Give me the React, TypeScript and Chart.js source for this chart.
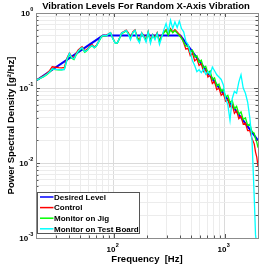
import { useEffect, useRef } from 'react';
import { Chart, registerables } from 'chart.js';
Chart.register(...registerables);

const FONT = '"Liberation Sans", Arial, sans-serif';

const titleText = 'Vibration Levels For Random X-Axis Vibration';
const xTitle = 'Frequency  [Hz]';
const yTitle = 'Power Spectral Density [g\u00B2/Hz]';

const seriesLabels = ['Desired Level', 'Control', 'Monitor on Jig', 'Monitor on Test Board'];
const seriesColors = ['#0000ff', '#ff0000', '#00ff00', '#00ffff'];

const desiredHz = [20, 80, 400, 2000];
const desiredPsd = [0.125, 0.5, 0.5, 0.02];

const freqHz = [
  20, 21, 22, 23.5, 25, 26.5, 28, 30, 32, 34, 36, 38, 40, 42, 44, 46, 48, 50, 52, 55,
  58, 61, 64, 67, 70, 74, 78, 82, 86, 90, 94, 98, 103, 108, 113, 118, 124, 130, 136, 142,
  149, 156, 163, 171, 179, 187, 196, 205, 215, 225, 236, 247, 259, 271, 284, 297, 311, 326, 341, 357,
  374, 391, 409, 428, 448, 469, 491, 514, 538, 563, 589, 617, 646, 676, 708, 741, 776, 812, 850, 890,
  932, 975, 1021, 1069, 1119, 1171, 1226, 1283, 1343, 1406, 1472, 1541, 1613, 1688, 1767, 1850, 1900, 1950, 2000,
];

const controlPsd = [
  0.128, 0.132, 0.138, 0.146, 0.156, 0.17, 0.192, 0.189, 0.187, 0.186, 0.188, 0.25, 0.293, 0.262, 0.252, 0.29, 0.322, 0.34, 0.355, 0.312,
  0.33, 0.362, 0.378, 0.352, 0.372, 0.43, 0.494, 0.505, 0.5, 0.53, 0.548, 0.47, 0.405, 0.4, 0.465, 0.545, 0.565, 0.59, 0.545, 0.47,
  0.56, 0.595, 0.48, 0.43, 0.545, 0.5, 0.44, 0.565, 0.43, 0.52, 0.47, 0.545, 0.42, 0.5, 0.56, 0.6, 0.52, 0.62, 0.56, 0.6,
  0.56, 0.52, 0.47, 0.4, 0.33, 0.34, 0.27, 0.29, 0.23, 0.245, 0.2, 0.21, 0.165, 0.175, 0.14, 0.15, 0.115, 0.122, 0.095, 0.1,
  0.08, 0.085, 0.067, 0.071, 0.056, 0.06, 0.046, 0.05, 0.039, 0.042, 0.033, 0.034, 0.027, 0.027, 0.021, 0.018, 0.014, 0.012, 0.009,
];

const jigPsd = [
  0.126, 0.13, 0.135, 0.142, 0.15, 0.162, 0.178, 0.176, 0.175, 0.174, 0.178, 0.235, 0.28, 0.25, 0.24, 0.275, 0.305, 0.325, 0.34, 0.3,
  0.318, 0.35, 0.365, 0.342, 0.362, 0.42, 0.485, 0.5, 0.495, 0.522, 0.54, 0.465, 0.398, 0.395, 0.455, 0.53, 0.55, 0.575, 0.53, 0.46,
  0.545, 0.58, 0.47, 0.42, 0.535, 0.49, 0.43, 0.55, 0.42, 0.505, 0.46, 0.53, 0.41, 0.49, 0.545, 0.585, 0.505, 0.6, 0.545, 0.58,
  0.54, 0.5, 0.46, 0.41, 0.36, 0.37, 0.3, 0.32, 0.26, 0.27, 0.22, 0.235, 0.185, 0.195, 0.157, 0.168, 0.13, 0.137, 0.107, 0.113,
  0.09, 0.096, 0.076, 0.08, 0.064, 0.068, 0.053, 0.057, 0.045, 0.048, 0.038, 0.04, 0.032, 0.033, 0.026, 0.025, 0.021, 0.019, 0.016,
];

const boardPsd = [
  0.127, 0.131, 0.136, 0.143, 0.152, 0.165, 0.18, 0.177, 0.176, 0.175, 0.176, 0.24, 0.29, 0.255, 0.245, 0.28, 0.31, 0.33, 0.345, 0.305,
  0.32, 0.352, 0.368, 0.345, 0.365, 0.425, 0.49, 0.502, 0.498, 0.525, 0.545, 0.462, 0.4, 0.398, 0.46, 0.54, 0.56, 0.585, 0.52, 0.44,
  0.55, 0.59, 0.45, 0.4, 0.54, 0.48, 0.41, 0.56, 0.395, 0.51, 0.44, 0.535, 0.38, 0.47, 0.6, 0.72, 0.56, 0.8, 0.62, 0.76,
  0.64, 0.78, 0.62, 0.56, 0.42, 0.38, 0.3, 0.23, 0.2, 0.165, 0.175, 0.16, 0.178, 0.152, 0.165, 0.15, 0.19, 0.17, 0.15, 0.14,
  0.13, 0.11, 0.072, 0.06, 0.037, 0.072, 0.09, 0.085, 0.12, 0.15, 0.1, 0.085, 0.065, 0.04, 0.02, 0.0035, 0.0011, 0.0008, 0.0007,
];

const xMajorTicks = [100, 1000];
const xTickExps = ['2', '3'];
const yMajorTicks = [0.001, 0.01, 0.1, 1];
const yTickExps = ['-3', '-2', '-1', '0'];

const X_MIN = 20;
const X_MAX = 2000;
const Y_MIN = 0.001;
const Y_MAX = 1;

function gridValues(min: number, max: number): number[] {
  const out: number[] = [];
  for (let e = -4; e <= 4; e++) {
    for (let m = 1; m <= 9; m++) {
      const v = parseFloat((m * Math.pow(10, e)).toPrecision(6));
      if (v >= min * 0.9999 && v <= max * 1.0001) out.push(v);
    }
  }
  return out;
}

const isMajor = (v: number) => Math.abs(Math.log10(v) - Math.round(Math.log10(v))) < 1e-6;

function drawPow(ctx: CanvasRenderingContext2D, exp: string, x: number, y: number, align: 'right' | 'center') {
  const baseFont = `bold 8px ${FONT}`;
  const expFont = `bold 5.5px ${FONT}`;
  ctx.font = baseFont;
  const bw = ctx.measureText('10').width;
  ctx.font = expFont;
  const ew = ctx.measureText(exp).width;
  const total = bw + ew;
  const left = align === 'right' ? x - total : x - total / 2;
  ctx.textAlign = 'left';
  ctx.textBaseline = 'middle';
  ctx.fillStyle = '#000';
  ctx.font = baseFont;
  ctx.fillText('10', left, y);
  ctx.font = expFont;
  ctx.fillText(exp, left + bw + 0.3, y - 4.2);
}

const framePlugin = {
  id: 'frame',
  afterDatasetsDraw(chart: any) {
    const { ctx, chartArea: a, scales } = chart;
    ctx.save();
    ctx.strokeStyle = '#555';
    ctx.lineWidth = 1;
    ctx.beginPath();
    for (const v of gridValues(X_MIN, X_MAX)) {
      const px = Math.round(scales.x.getPixelForValue(v)) + 0.5;
      const len = isMajor(v) ? 4 : 2.5;
      ctx.moveTo(px, a.bottom);
      ctx.lineTo(px, a.bottom - len);
      ctx.moveTo(px, a.top);
      ctx.lineTo(px, a.top + len);
    }
    for (const v of gridValues(Y_MIN, Y_MAX)) {
      const py = Math.round(scales.y.getPixelForValue(v)) + 0.5;
      const len = isMajor(v) ? 4 : 2.5;
      ctx.moveTo(a.left, py);
      ctx.lineTo(a.left + len, py);
      ctx.moveTo(a.right, py);
      ctx.lineTo(a.right - len, py);
    }
    ctx.stroke();
    ctx.strokeStyle = '#8c8c8c';
    ctx.strokeRect(Math.round(a.left) + 0.5, Math.round(a.top) + 0.5, Math.round(a.right - a.left), Math.round(a.bottom - a.top));
    ctx.restore();
  },
  afterDraw(chart: any) {
    const { ctx, chartArea: a, scales } = chart;
    ctx.save();
    // title
    ctx.font = `bold 9.5px ${FONT}`;
    ctx.fillStyle = '#000';
    ctx.textAlign = 'center';
    ctx.textBaseline = 'middle';
    ctx.fillText(titleText, (a.left + a.right) / 2 - 1, 6.5);
    yMajorTicks.forEach((v, i) => {
      drawPow(ctx, yTickExps[i], a.left - 3, scales.y.getPixelForValue(v) + 0.5, 'right');
    });
    xMajorTicks.forEach((v, i) => {
      drawPow(ctx, xTickExps[i], scales.x.getPixelForValue(v) - 1, a.bottom + 12, 'center');
    });
    // legend
    const bx = Math.round(a.left) + 1.5;
    const by = 192.5;
    const bw = 102;
    const bh = 41;
    ctx.fillStyle = '#fff';
    ctx.fillRect(bx, by, bw, bh);
    ctx.strokeStyle = '#555';
    ctx.lineWidth = 1;
    ctx.strokeRect(bx, by, bw, bh);
    ctx.font = `bold 8px ${FONT}`;
    ctx.textAlign = 'left';
    ctx.textBaseline = 'middle';
    chart.data.datasets.forEach((ds: any, i: number) => {
      const y = by + 4.5 + i * 10.6;
      ctx.strokeStyle = ds.borderColor;
      ctx.lineWidth = 1.5;
      ctx.beginPath();
      ctx.moveTo(bx + 2.5, y);
      ctx.lineTo(bx + 16, y);
      ctx.stroke();
      ctx.fillStyle = '#000';
      ctx.fillText(ds.label, bx + 16.5, y + 0.5);
    });
    ctx.restore();
  },
};

export default function App() {
  const ref = useRef<HTMLCanvasElement | null>(null);
  useEffect(() => {
    document.body.style.margin = '0';
    const canvas = ref.current;
    if (!canvas) return;
    const mk = (xs: number[], ys: number[]) => xs.map((x, i) => ({ x, y: ys[i] }));
    const gridColor = (c: any) => (c.tick && isMajor(c.tick.value) ? '#dadada' : '#ececec');
    const chart = new Chart(canvas, {
      type: 'line',
      data: {
        datasets: [
          { label: seriesLabels[0], data: mk(desiredHz, desiredPsd), borderColor: seriesColors[0], borderWidth: 2, order: 3 },
          { label: seriesLabels[1], data: mk(freqHz, controlPsd), borderColor: seriesColors[1], borderWidth: 1.3, order: 2 },
          { label: seriesLabels[2], data: mk(freqHz, jigPsd), borderColor: seriesColors[2], borderWidth: 1.3, order: 1 },
          { label: seriesLabels[3], data: mk(freqHz, boardPsd), borderColor: seriesColors[3], borderWidth: 1.3, order: 0 },
        ] as any,
      },
      options: {
        animation: false,
        responsive: false,
        maintainAspectRatio: false,
        elements: { point: { radius: 0 }, line: { tension: 0 } },
        layout: { padding: { left: 0, right: 8, top: 13, bottom: 0 } },
        plugins: {
          legend: { display: false },
          tooltip: { enabled: false },
          title: { display: false },
        },
        scales: {
          x: {
            type: 'logarithmic',
            min: X_MIN,
            max: X_MAX,
            afterBuildTicks: (s: any) => {
              s.ticks = gridValues(X_MIN, X_MAX).map((v) => ({ value: v }));
            },
            afterFit: (s: any) => {
              s.height = 28;
            },
            ticks: { display: false },
            grid: { color: gridColor, drawTicks: false, lineWidth: 1 },
            border: { display: false },
            title: {
              display: true,
              text: xTitle,
              color: '#000',
              font: { family: FONT, size: 9.5, weight: 'bold' },
              padding: { top: 0, bottom: 1 },
            },
          },
          y: {
            type: 'logarithmic',
            min: Y_MIN,
            max: Y_MAX,
            afterBuildTicks: (s: any) => {
              s.ticks = gridValues(Y_MIN, Y_MAX).map((v) => ({ value: v }));
            },
            afterFit: (s: any) => {
              s.width = 36;
            },
            ticks: { display: false },
            grid: { color: gridColor, drawTicks: false, lineWidth: 1 },
            border: { display: false },
            title: {
              display: true,
              text: yTitle,
              color: '#000',
              font: { family: FONT, size: 9.5, weight: 'bold' },
              padding: { top: 6, bottom: 0 },
            },
          },
        },
      } as any,
      plugins: [framePlugin],
    });
    return () => chart.destroy();
  }, []);
  return (
    <div style={{ position: 'fixed', left: 0, top: 0, width: 266, height: 266 }}>
      <canvas ref={ref} width={266} height={266} style={{ display: 'block', width: 266, height: 266 }} />
    </div>
  );
}
